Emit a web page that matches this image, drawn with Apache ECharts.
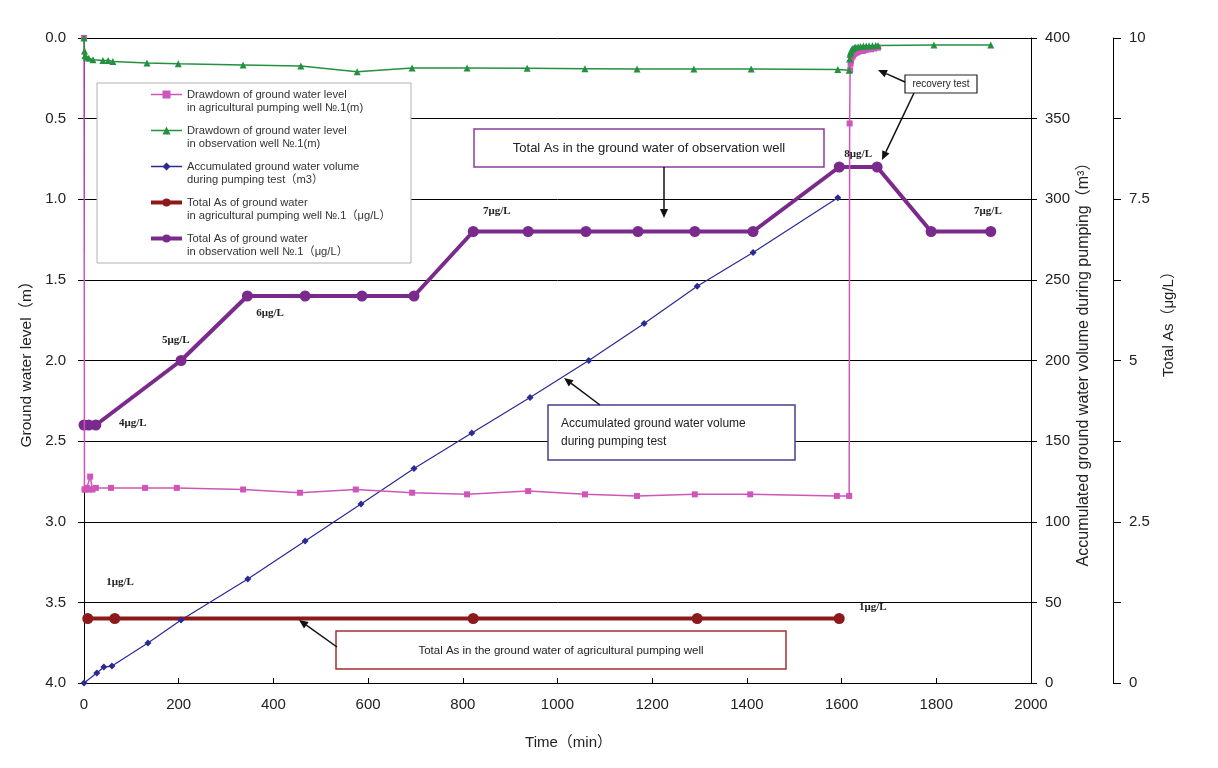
<!DOCTYPE html>
<html><head><meta charset="utf-8">
<script src="https://cdn.jsdelivr.net/npm/echarts@6/dist/echarts.min.js"></script>
<style>html,body{margin:0;padding:0;background:#fff}#c{width:1218px;height:768px}</style>
</head><body><div id="c"></div>
<script>
const SANS = '"Liberation Sans", Arial, "Noto Sans CJK JP", sans-serif';
const SERIF = '"Liberation Serif", "DejaVu Serif", "Noto Sans CJK JP", serif';

// ---- series names (legend) ----
const seriesNames = [
  'Drawdown of ground water level\nin agricultural pumping well №.1(m)',
  'Drawdown of ground water level\nin observation well №.1(m)',
  'Accumulated ground water volume\nduring pumping test（m3）',
  'Total As of ground water\nin agricultural pumping well №.1（μg/L）',
  'Total As of ground water\nin observation well №.1（μg/L）'
];

// ---- drawdown in agricultural pumping well (m) ----
const agriTime  = [0, 1, 3, 6, 10, 13, 18, 25, 57, 129, 196, 336, 456, 574, 693, 809, 938, 1058, 1168, 1290, 1407, 1590, 1616,
                   1617, 1618, 1619, 1620, 1622, 1624, 1626, 1629, 1632, 1636, 1640, 1645, 1650, 1656, 1662, 1669, 1677];
const agriLevel = [0, 2.80, 2.80, 2.79, 2.80, 2.72, 2.80, 2.79, 2.79, 2.79, 2.79, 2.80, 2.82, 2.80, 2.82, 2.83, 2.81, 2.83, 2.84, 2.83, 2.83, 2.84, 2.84,
                   0.53, 0.20, 0.16, 0.14, 0.12, 0.11, 0.10, 0.095, 0.09, 0.085, 0.08, 0.08, 0.075, 0.07, 0.07, 0.065, 0.06];

// ---- drawdown in observation well (m) ----
const obsTime  = [0, 1, 2, 5, 10, 19, 40, 51, 61, 133, 199, 336, 458, 577, 693, 809, 936, 1058, 1168, 1288, 1409, 1592, 1616,
                  1617, 1618, 1619, 1620, 1622, 1624, 1627, 1630, 1635, 1640, 1646, 1652, 1658, 1665, 1672, 1677, 1795, 1915];
const obsLevel = [0, 0.08, 0.11, 0.12, 0.125, 0.135, 0.14, 0.14, 0.145, 0.155, 0.16, 0.167, 0.174, 0.21, 0.186, 0.186, 0.188, 0.19, 0.192, 0.192, 0.193, 0.196, 0.20,
                  0.13, 0.10, 0.09, 0.08, 0.07, 0.065, 0.06, 0.058, 0.055, 0.052, 0.05, 0.05, 0.048, 0.048, 0.047, 0.047, 0.043, 0.043];

// ---- accumulated pumped volume (m3) ----
const volTime = [0, 27, 42, 59, 135, 205, 346, 467, 585, 697, 819, 942, 1066, 1183, 1295, 1413, 1592];
const volume  = [0, 6.2, 9.9, 10.5, 24.8, 39, 64.5, 88, 111, 133, 155, 177, 200, 223, 246, 267, 301];

// ---- Total As (µg/L) ----
const agriAsTime = [8, 65, 822, 1295, 1595];
const agriAs     = [1, 1, 1, 1, 1];
const obsAsTime  = [0, 10, 25, 205, 345, 467, 587, 697, 822, 938, 1060, 1170, 1290, 1413, 1595, 1675, 1789, 1915];
const obsAs      = [4, 4, 4, 5, 6, 6, 6, 6, 7, 7, 7, 7, 7, 7, 8, 8, 7, 7];

// ---- value annotations (text, time, As) ----
const obsAsNotes  = [['4μg/L', 103, 4.03], ['5μg/L', 194, 5.32], ['6μg/L', 393, 5.74], ['7μg/L', 872, 7.32], ['8μg/L', 1635, 8.2], ['7μg/L', 1909, 7.32]];
const agriAsNotes = [['1μg/L', 76, 1.57], ['1μg/L', 1666, 1.18]];

// ---- axis ticks ----
const xTicks = { min: 0, max: 2000, interval: 200 };
const levelTicks = { min: 0, max: 4, interval: 0.5 };
const volTicks = { min: 0, max: 400, interval: 50 };
const asTicks = { min: 0, max: 10, interval: 1.25 };

const zip = (a, b) => a.map((v, i) => [v, b[i]]);

const C_PINK = '#cf55b8', C_GREEN = '#23913f', C_BLUE = '#2a2a96', C_RED = '#8c1a1a', C_PURPLE = '#7a2a8c';
const legendLineWidth = [1.5, 1.5, 1.5, 4, 4];

function arrow(x1, y1, x2, y2, color) {
  const ang = Math.atan2(y2 - y1, x2 - x1);
  const L = 9, W = 4;
  const bx = x2 - L * Math.cos(ang), by = y2 - L * Math.sin(ang);
  const px = -Math.sin(ang) * W, py = Math.cos(ang) * W;
  return [
    { type: 'line', z: 20, shape: { x1, y1, x2: bx, y2: by }, style: { stroke: color, lineWidth: 1.5 } },
    { type: 'polygon', z: 20, shape: { points: [[x2, y2], [bx + px, by + py], [bx - px, by - py]] }, style: { fill: color } }
  ];
}

const chart = echarts.init(document.getElementById('c'), null, { renderer: 'canvas' });

const noteLabel = { show: true, position: 'inside', formatter: '{b}', color: '#222', fontFamily: SERIF, fontSize: 11, fontWeight: 'bold' };

const option = {
  animation: false,
  backgroundColor: '#fff',
  textStyle: { fontFamily: SANS },
  grid: { left: 84, right: 187, top: 38, bottom: 85, containLabel: false },
  legend: {
    orient: 'vertical', left: 149, top: 75, padding: 0, itemGap: -3, z: 10,
    itemWidth: 31, itemHeight: 10,
    formatter: name => '\n' + name,
    textStyle: { fontFamily: SANS, fontSize: 11.2, lineHeight: 13, color: '#333' },
    data: seriesNames.map((n, i) => ({ name: n, lineStyle: { width: legendLineWidth[i] } }))
  },
  xAxis: {
    type: 'value', min: xTicks.min, max: xTicks.max, interval: xTicks.interval,
    name: 'Time（min）', nameLocation: 'middle', nameGap: 52,
    nameTextStyle: { fontSize: 15, color: '#222', fontFamily: SANS, padding: [0, 0, 0, 22] },
    axisLine: { show: true, onZero: false, lineStyle: { color: '#000', width: 1 } },
    axisTick: { show: true, inside: true, length: 5, lineStyle: { color: '#000' } },
    axisLabel: { fontSize: 15, color: '#222', margin: 14, formatter: v => String(v) },
    splitLine: { show: false }
  },
  yAxis: [
    {
      type: 'value', inverse: true, min: levelTicks.min, max: levelTicks.max, interval: levelTicks.interval,
      position: 'left', name: 'Ground water level（m）', nameLocation: 'middle', nameGap: 50, nameRotate: 90,
      nameTextStyle: { fontSize: 15.5, color: '#222', fontFamily: SANS },
      axisLine: { show: true, onZero: false, lineStyle: { color: '#000' } },
      axisTick: { show: true, length: 6, lineStyle: { color: '#000' } },
      axisLabel: { fontSize: 15, color: '#222', margin: 18, formatter: v => v.toFixed(1) },
      splitLine: { show: true, lineStyle: { color: '#000', width: 1 } }
    },
    {
      type: 'value', min: volTicks.min, max: volTicks.max, interval: volTicks.interval,
      position: 'right', name: 'Accumulated ground water volume during pumping（m³）',
      nameLocation: 'middle', nameGap: 45, nameRotate: 90, nameMoveOverlap: false,
      nameTextStyle: { fontSize: 16, color: '#222', fontFamily: SANS },
      axisLine: { show: true, onZero: false, lineStyle: { color: '#000' } },
      axisTick: { show: true, length: 6, lineStyle: { color: '#000' } },
      axisLabel: { fontSize: 15, color: '#222', margin: 14 },
      splitLine: { show: false }
    },
    {
      type: 'value', min: asTicks.min, max: asTicks.max, interval: asTicks.interval,
      position: 'right', offset: 82, name: 'Total As（μg/L）',
      nameLocation: 'middle', nameGap: 48, nameRotate: 90,
      nameTextStyle: { fontSize: 15, color: '#222', fontFamily: SANS, padding: [0, 0, 0, 80] },
      axisLine: { show: true, onZero: false, lineStyle: { color: '#000' } },
      axisTick: { show: true, length: 8, lineStyle: { color: '#000' } },
      axisLabel: { fontSize: 15, color: '#222', margin: 16,
        formatter: v => (Math.abs(v / 2.5 - Math.round(v / 2.5)) < 1e-6 ? String(v) : '') },
      splitLine: { show: false }
    }
  ],
  series: [
    {
      name: seriesNames[0], type: 'line', yAxisIndex: 0, data: zip(agriTime, agriLevel),
      symbol: 'rect', symbolSize: 6, color: C_PINK, lineStyle: { width: 1.5, color: C_PINK }, z: 3
    },
    {
      name: seriesNames[1], type: 'line', yAxisIndex: 0, data: zip(obsTime, obsLevel),
      symbol: 'triangle', symbolSize: 7, color: C_GREEN, lineStyle: { width: 1.5, color: C_GREEN }, z: 3
    },
    {
      name: seriesNames[2], type: 'line', yAxisIndex: 1, data: zip(volTime, volume),
      symbol: 'diamond', symbolSize: 7, color: C_BLUE, lineStyle: { width: 1.2, color: C_BLUE }, z: 2
    },
    {
      name: seriesNames[3], type: 'line', yAxisIndex: 2, data: zip(agriAsTime, agriAs),
      symbol: 'circle', symbolSize: 11, color: C_RED, lineStyle: { width: 4, color: C_RED }, z: 2,
      markPoint: { symbol: 'circle', symbolSize: 0, silent: true, label: noteLabel,
        data: agriAsNotes.map(n => ({ name: n[0], coord: [n[1], n[2]] })) }
    },
    {
      name: seriesNames[4], type: 'line', yAxisIndex: 2, data: zip(obsAsTime, obsAs),
      symbol: 'circle', symbolSize: 11, color: C_PURPLE, lineStyle: { width: 4, color: C_PURPLE }, z: 2,
      markPoint: { symbol: 'circle', symbolSize: 0, silent: true, label: noteLabel,
        data: obsAsNotes.map(n => ({ name: n[0], coord: [n[1], n[2]] })) }
    }
  ],
  graphic: [
    // legend frame
    { type: 'rect', z: 5, shape: { x: 97, y: 83, width: 314, height: 180 }, style: { fill: '#fff', stroke: '#b0b0b0', lineWidth: 1 } },
    // observation-well As box
    { type: 'rect', z: 20, shape: { x: 474, y: 129, width: 350, height: 38 }, style: { fill: '#fff', stroke: '#8a3d9a', lineWidth: 1.5 } },
    { type: 'text', z: 21, x: 649, y: 148, style: { text: 'Total As in the ground water of observation well', font: '13px ' + SANS, fill: '#222', align: 'center', verticalAlign: 'middle' } },
    ...arrow(664, 167, 664, 218, '#111'),
    // accumulated volume box
    { type: 'rect', z: 20, shape: { x: 548, y: 405, width: 247, height: 55 }, style: { fill: '#fff', stroke: '#4a3f8f', lineWidth: 1.5 } },
    { type: 'text', z: 21, x: 561, y: 433, style: { text: 'Accumulated ground water volume\nduring pumping test', font: '12px ' + SANS, lineHeight: 18, fill: '#222', align: 'left', verticalAlign: 'middle' } },
    ...arrow(600, 405, 564, 378, '#111'),
    // agricultural well As box
    { type: 'rect', z: 20, shape: { x: 336, y: 631, width: 450, height: 38 }, style: { fill: '#fff', stroke: '#a03030', lineWidth: 1.5 } },
    { type: 'text', z: 21, x: 561, y: 651, style: { text: 'Total As in the ground water of agricultural pumping well', font: '11.5px ' + SANS, fill: '#222', align: 'center', verticalAlign: 'middle' } },
    ...arrow(337, 647, 299, 620, '#111'),
    // recovery test box
    { type: 'rect', z: 20, shape: { x: 905, y: 75, width: 72, height: 18 }, style: { fill: '#fff', stroke: '#222', lineWidth: 1.2 } },
    { type: 'text', z: 21, x: 941, y: 84, style: { text: 'recovery test', font: '10px ' + SANS, fill: '#222', align: 'center', verticalAlign: 'middle' } },
    ...arrow(905, 82, 878, 70, '#111'),
    ...arrow(914, 93, 882, 160, '#111')
  ]
};
chart.setOption(option);
</script>
</body></html>
